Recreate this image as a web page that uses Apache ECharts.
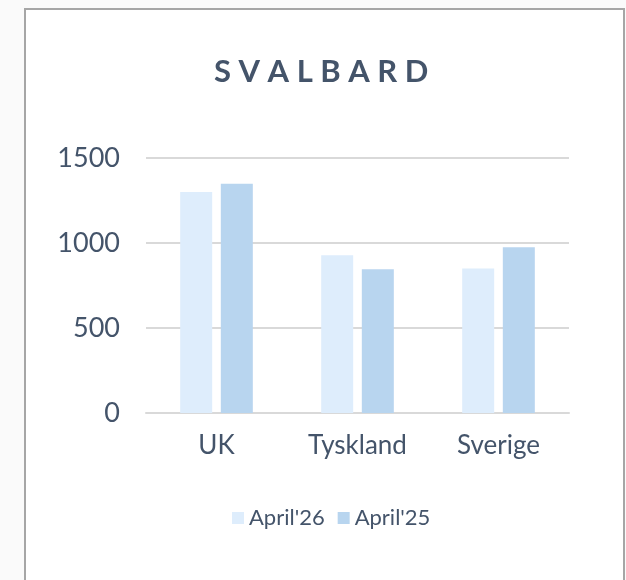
<!DOCTYPE html>
<html>
<head>
<meta charset="utf-8">
<script src="https://cdn.jsdelivr.net/npm/echarts@6/dist/echarts.min.js"></script>
<style>
html,body{margin:0;padding:0;background:#fafafa;}
#c{width:626px;height:580px;}
</style>
</head>
<body>
<div id="c"></div>
<script>
const categories = ['UK', 'Tyskland', 'Sverige'];
const seriesNames = ["April'26", "April'25"];
const april26 = [1300, 928, 850];
const april25 = [1348, 845, 975];
const yTicks = [0, 500, 1000, 1500];
const titleText = 'S V A L B A R D';

const textColor = '#44546a';
const fontFamily = 'Lato, "Open Sans", sans-serif';
const chart = echarts.init(document.getElementById('c'));
chart.setOption({
  backgroundColor: '#fafafa',
  animation: false,
  graphic: [{
    type: 'rect', left: 24, top: 8, z: -10,
    shape: { x: 0, y: 0, width: 599, height: 600 },
    style: { fill: '#ffffff', stroke: '#a6a6a6', lineWidth: 2 }
  }],
  title: {
    text: titleText,
    left: 209,
    top: 51,
    textStyle: { color: textColor, fontSize: 31, fontWeight: 'bold', fontFamily: fontFamily }
  },
  legend: {
    data: seriesNames,
    bottom: 46,
    left: 227,
    itemWidth: 12,
    itemHeight: 12,
    itemGap: 13,
    icon: 'rect',
    textStyle: { color: textColor, fontSize: 22, fontFamily: fontFamily }
  },
  grid: { left: 146, right: 57, top: 158, bottom: 167 },
  xAxis: {
    type: 'category',
    data: categories,
    axisLine: { lineStyle: { color: '#d9d9d9', width: 2 } },
    axisTick: { show: false },
    axisLabel: { color: textColor, fontSize: 26, fontFamily: fontFamily, margin: 20 }
  },
  yAxis: {
    type: 'value',
    min: yTicks[0],
    max: yTicks[yTicks.length - 1],
    interval: 500,
    axisLine: { show: false },
    axisTick: { show: false },
    splitLine: { lineStyle: { color: '#d9d9d9', width: 2 } },
    axisLabel: { color: textColor, fontSize: 27, fontFamily: fontFamily, margin: 26,
      formatter: function (v) { return String(v); } }
  },
  series: [
    { name: seriesNames[0], type: 'bar', data: april26, barWidth: 32, barGap: '27%',
      itemStyle: { color: '#deedfc' } },
    { name: seriesNames[1], type: 'bar', data: april25, barWidth: 32,
      itemStyle: { color: '#b8d5ef' } }
  ]
});
</script>
</body>
</html>
